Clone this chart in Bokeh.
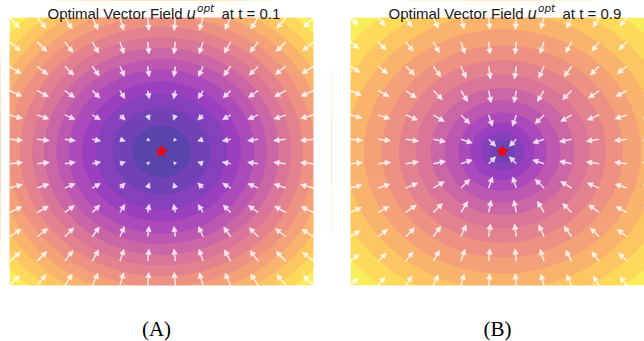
import numpy as np
from bokeh.plotting import figure
from bokeh.layouts import row
from bokeh.models import ColumnDataSource, Arrow, NormalHead, Range1d
from bokeh.core.properties import field, value
from bokeh.palettes import Plasma256
from bokeh.embed import file_html
from bokeh.resources import INLINE

# ---------------- data ----------------
grid = [-1.0, -0.818, -0.636, -0.455, -0.273, -0.091, 0.091, 0.273, 0.455, 0.636, 0.818, 1.0]
target = [0.0, 0.0]

# arrow speed by quadrant index [|x| index][|y| index] (0 = nearest centre)
speed_A = [
    [2.7, 5.7, 8.6, 10.7, 12.3, 13.3],
    [5.7, 7.4, 9.5, 11.2, 12.5, 13.4],
    [8.6, 9.5, 10.7, 12.0, 13.0, 13.7],
    [10.7, 11.2, 12.0, 12.8, 13.4, 13.9],
    [12.3, 12.5, 13.0, 13.4, 13.9, 14.2],
    [13.3, 13.4, 13.7, 13.9, 14.2, 14.4],
]
speed_B = [
    [10.0, 12.0, 12.5, 13.0, 12.5, 12.0],
    [12.0, 12.5, 13.0, 13.0, 12.5, 12.0],
    [12.5, 13.0, 13.0, 13.0, 12.5, 12.0],
    [13.0, 13.0, 13.0, 12.5, 12.0, 11.5],
    [12.5, 12.5, 12.5, 12.0, 11.5, 11.0],
    [12.0, 12.0, 12.0, 11.5, 11.0, 10.5],
]

# radii of the filled-contour boundaries
levels_A = [0.19, 0.32, 0.43, 0.52, 0.61, 0.69, 0.77, 0.85, 0.93, 1.01, 1.09, 1.17, 1.25, 1.33]
levels_B = [0.03, 0.08, 0.14, 0.21, 0.29, 0.38, 0.47, 0.57, 0.68, 0.79, 0.91, 1.03, 1.15, 1.28]

t_labels = ["0.1", "0.9"]
captions = ["(A)", "(B)"]

# ---------------- styling / geometry ----------------
ALPHA = 0.75
FRAME_TOP = 17
FRAME_H = 268
FIG_H = 341
SY = FRAME_H / 2.0
SX = 152.0
PX_PER_SPEED = 1.0


def blend(hexc, a=ALPHA):
    r, g, b = int(hexc[1:3], 16), int(hexc[3:5], 16), int(hexc[5:7], 16)
    r = round(a * r + (1 - a) * 255)
    g = round(a * g + (1 - a) * 255)
    b = round(a * b + (1 - a) * 255)
    return "#%02x%02x%02x" % (r, g, b)


def band_colors(n):
    out = []
    for k in range(n):
        t = (k + 0.5) / n
        out.append(blend(Plasma256[int(round(t * 255))]))
    return out


def qidx(k):
    return int(abs(k - 5.5) - 0.5)


def panel(levels, speed, tlab, caption, frame_left_page, fig_left_page, fig_w):
    def tx(px):
        return -1 + (px - frame_left_page) / SX

    def ty(py):
        return 1 - (py - FRAME_TOP) / SY

    xs, xe = tx(fig_left_page), tx(fig_left_page + fig_w)
    ys, ye = ty(FIG_H), ty(0)
    p = figure(width=fig_w, height=FIG_H,
               x_range=Range1d(xs, xe), y_range=Range1d(ys, ye),
               x_axis_location=None, y_axis_location=None,
               toolbar_location=None, output_backend="svg", min_border=0)
    p.grid.visible = False
    p.outline_line_color = None
    p.border_fill_color = "white"
    p.background_fill_color = "white"

    n = len(levels) + 1
    cols = band_colors(n)
    # outermost band fills the square
    p.quad(left=[-1], right=[1], bottom=[-1], top=[1], fill_color=cols[-1], line_color=None)
    radii = levels[::-1]
    ccols = cols[:-1][::-1]
    src = ColumnDataSource(dict(x=[target[0]] * len(radii), y=[target[1]] * len(radii),
                                w=[2 * r for r in radii], c=ccols))
    p.ellipse(x="x", y="y", width="w", height="w", fill_color="c",
              line_color="c", line_width=0.6, source=src)
    # white masks outside the square
    p.quad(left=[xs - 1, 1, xs - 1, xs - 1], right=[-1, xe + 1, xe + 1, xe + 1],
           bottom=[ys - 1, ys - 1, 1, ys - 1], top=[ye + 1, ye + 1, ye + 1, -1],
           fill_color="white", line_color=None)

    x0, y0, x1, y1, hs = [], [], [], [], []
    for i, gx in enumerate(grid):
        for j, gy in enumerate(grid):
            dx, dy = gx - target[0], gy - target[1]
            r = np.hypot(dx, dy)
            L = speed[qidx(i)][qidx(j)] * PX_PER_SPEED
            ux, uy = -dx / r, -dy / r
            x0.append(gx)
            y0.append(gy)
            x1.append(gx + L * ux / SX)
            y1.append(gy + L * uy / SY)
            hs.append(min(5.5, max(3.0, 0.9 * L)))
    asrc = ColumnDataSource(dict(x0=x0, y0=y0, x1=x1, y1=y1, hs=hs))
    head = NormalHead(size=field("hs"), fill_color="white", fill_alpha=0.8,
                      line_color="white", line_alpha=0.8, line_width=0.5)
    p.add_layout(Arrow(end=head, x_start="x0", y_start="y0", x_end="x1", y_end="y1",
                       source=asrc, line_color="white", line_alpha=0.8, line_width=1.5))

    p.scatter(x=[target[0]], y=[target[1]], marker="star", size=12,
              fill_color="#ff0000", line_color="#ff0000")

    cx = frame_left_page + SX  # page x of the data centre
    pieces = [
        ("Optimal Vector Field", -114, 13, "Liberation Sans", "15px", "normal"),
        ("u", 25, 13, "DejaVu Sans", "15px", "italic"),
        ("opt", 35.5, 7, "DejaVu Sans", "10.5px", "italic"),
        ("at t = " + tlab, 60, 13, "Liberation Sans", "15px", "normal"),
    ]
    for txt, off, base, font, size, style in pieces:
        p.text(x=[tx(cx + off)], y=[ty(base)], text=[txt], text_font=value(font),
               text_font_size=value(size), text_font_style=style, text_color="#1a1a1a",
               text_align="left", text_baseline="alphabetic")
    p.text(x=[tx(cx - 5)], y=[ty(328)], text=[caption], text_font=value("Liberation Serif"),
           text_font_size=value("21px"), text_color="black",
           text_align="center", text_baseline="alphabetic")
    return p


pA = panel(levels_A, speed_A, t_labels[0], captions[0], 9, 0, 331)
pB = panel(levels_B, speed_B, t_labels[1], captions[1], 350, 331, 313)

layout = row(pA, pB)
open("out.html", "w").write(file_html(layout, INLINE))
